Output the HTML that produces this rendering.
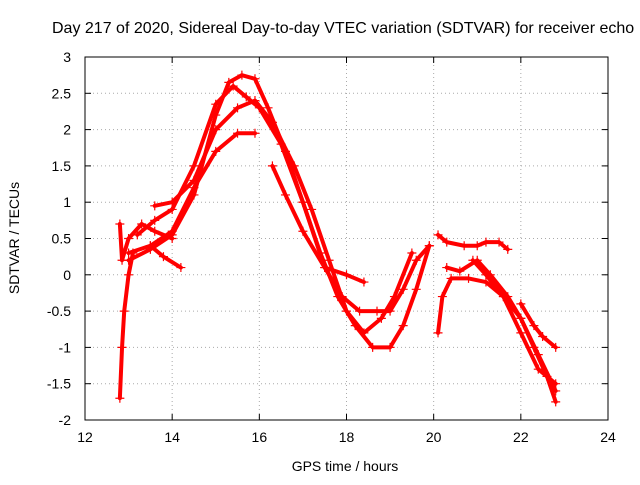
<!DOCTYPE html>
<html><head><meta charset="utf-8"><style>
body{margin:0;background:#fff;width:640px;height:480px;overflow:hidden}
svg{font-family:"Liberation Sans",sans-serif}
</style></head><body>
<svg id="chart" width="640" height="480">
<text x="52" y="33" font-size="16">Day 217 of 2020, Sidereal Day-to-day VTEC variation (SDTVAR) for receiver echo</text>
<text x="345" y="471" font-size="14" text-anchor="middle">GPS time / hours</text>
<text transform="translate(19,238) rotate(-90)" font-size="14" text-anchor="middle">SDTVAR / TECUs</text>
<g id="grid"></g><g id="ticks"></g><g id="series"></g>
<rect x="85" y="57" width="523" height="363" fill="none" stroke="#000"/>
</svg>
<script>
const xTicks=[12,14,16,18,20,22,24];
const yTicks=[-2,-1.5,-1,-0.5,0,0.5,1,1.5,2,2.5,3];
const trackP1=[[13.0,0.2],[13.5,0.35],[14,0.55],[14.5,1.1],[15,2.2],[15.3,2.65],[15.6,2.75],[15.9,2.7],[16.2,2.3],[16.6,1.7],[17,1.0],[17.4,0.3],[17.8,-0.3],[18.2,-0.7],[18.6,-1.0],[19.0,-1.0],[19.3,-0.7],[19.6,-0.2],[19.9,0.4]];
const trackP2=[[13.2,0.55],[13.6,0.75],[14,0.9],[14.5,1.5],[15,2.35],[15.4,2.6],[15.7,2.45],[16,2.3],[16.5,1.8],[17,1.0],[17.5,0.1],[17.9,-0.3],[18.3,-0.5],[18.7,-0.5],[19.0,-0.5],[19.3,-0.2],[19.6,0.2],[19.9,0.4]];
const trackP3=[[13.6,0.95],[14,1.0],[14.5,1.3],[15,2.0],[15.5,2.3],[15.9,2.4],[16.3,2.1],[16.8,1.5],[17.2,0.9],[17.6,0.2],[18.0,-0.5],[18.4,-0.8],[18.8,-0.6],[19.1,-0.3],[19.5,0.3]];
const trackP4=[[13.0,0.3],[13.5,0.4],[14,0.6],[14.5,1.2],[15,1.7],[15.5,1.95],[15.9,1.95]];
const trackP5=[[16.3,1.5],[16.6,1.1],[17,0.6],[17.5,0.1],[18.0,0.0],[18.4,-0.1]];
const trackS1=[[13.5,0.4],[13.8,0.25],[14.2,0.1]];
const trackS2=[[12.8,-1.7],[12.85,-1.0],[12.9,-0.5],[13.0,0.0],[13.1,0.3]];
const trackS3=[[12.8,0.7],[12.85,0.2],[13.0,0.5],[13.3,0.7],[13.6,0.6],[14.0,0.5]];
const trackR1=[[20.1,0.55],[20.3,0.45],[20.7,0.4],[21.0,0.4],[21.2,0.45],[21.5,0.45],[21.7,0.35]];
const trackR2=[[20.1,-0.8],[20.2,-0.3],[20.4,-0.05],[20.8,-0.05],[21.2,-0.1],[21.6,-0.3],[22.0,-0.6],[22.4,-1.1],[22.8,-1.6]];
const trackR3=[[20.3,0.1],[20.6,0.05],[21.0,0.2],[21.3,0.0],[21.7,-0.3],[22.0,-0.6],[22.3,-1.0],[22.6,-1.4],[22.8,-1.75]];
const trackR4=[[22.0,-0.4],[22.3,-0.7],[22.5,-0.85],[22.8,-1.0]];
const trackR5=[[20.9,0.2],[21.2,0.0],[21.6,-0.3],[22.0,-0.8],[22.4,-1.3],[22.8,-1.5]];
const tracks=[trackP1,trackP2,trackP3,trackP4,trackP5,trackS1,trackS2,trackS3,trackR1,trackR2,trackR3,trackR4,trackR5];
const NS="http://www.w3.org/2000/svg";
const X=t=>85+(t-12)/12*523, Y=v=>57+(3-v)/5*363;
const grid=document.getElementById('grid'),ticks=document.getElementById('ticks'),ser=document.getElementById('series');
function mk(tag,at,parent){const e=document.createElementNS(NS,tag);for(const k in at)e.setAttribute(k,at[k]);parent.appendChild(e);return e;}
xTicks.forEach(t=>{
  if(t>12&&t<24){const g=mk('line',{x1:X(t),x2:X(t),y1:57,y2:420,stroke:'#aaa','stroke-dasharray':'1,3'},grid);
  
  }
  mk('line',{x1:X(t),x2:X(t),y1:420,y2:414,stroke:'#000'},ticks);
  mk('line',{x1:X(t),x2:X(t),y1:57,y2:63,stroke:'#000'},ticks);
  const l=mk('text',{x:X(t),y:442,'font-size':14,'text-anchor':'middle'},ticks);l.textContent=t;
  
  
});
yTicks.forEach(v=>{
  if(v>-2&&v<3){const g=mk('line',{x1:85,x2:608,y1:Y(v),y2:Y(v),stroke:'#aaa','stroke-dasharray':'1,3'},grid);
  
  }
  mk('line',{x1:85,x2:91,y1:Y(v),y2:Y(v),stroke:'#000'},ticks);
  mk('line',{x1:602,x2:608,y1:Y(v),y2:Y(v),stroke:'#000'},ticks);
  const l=mk('text',{x:71,y:Y(v)+5,'font-size':14,'text-anchor':'end'},ticks);l.textContent=v;
  
  
});
tracks.forEach((tr,i)=>{
  const p=mk('polyline',{points:tr.map(d=>X(d[0])+','+Y(d[1])).join(' '),fill:'none',stroke:'#f00','stroke-width':4,'stroke-linejoin':'round','stroke-linecap':'round'},ser);
  
  
  tr.forEach(d=>{
    const m=mk('path',{d:`M${X(d[0])-4.5},${Y(d[1])}h9M${X(d[0])},${Y(d[1])-4.5}v9`,stroke:'#f00','stroke-width':1.2},ser);
    
    
  });
});
</script>
</body></html>
